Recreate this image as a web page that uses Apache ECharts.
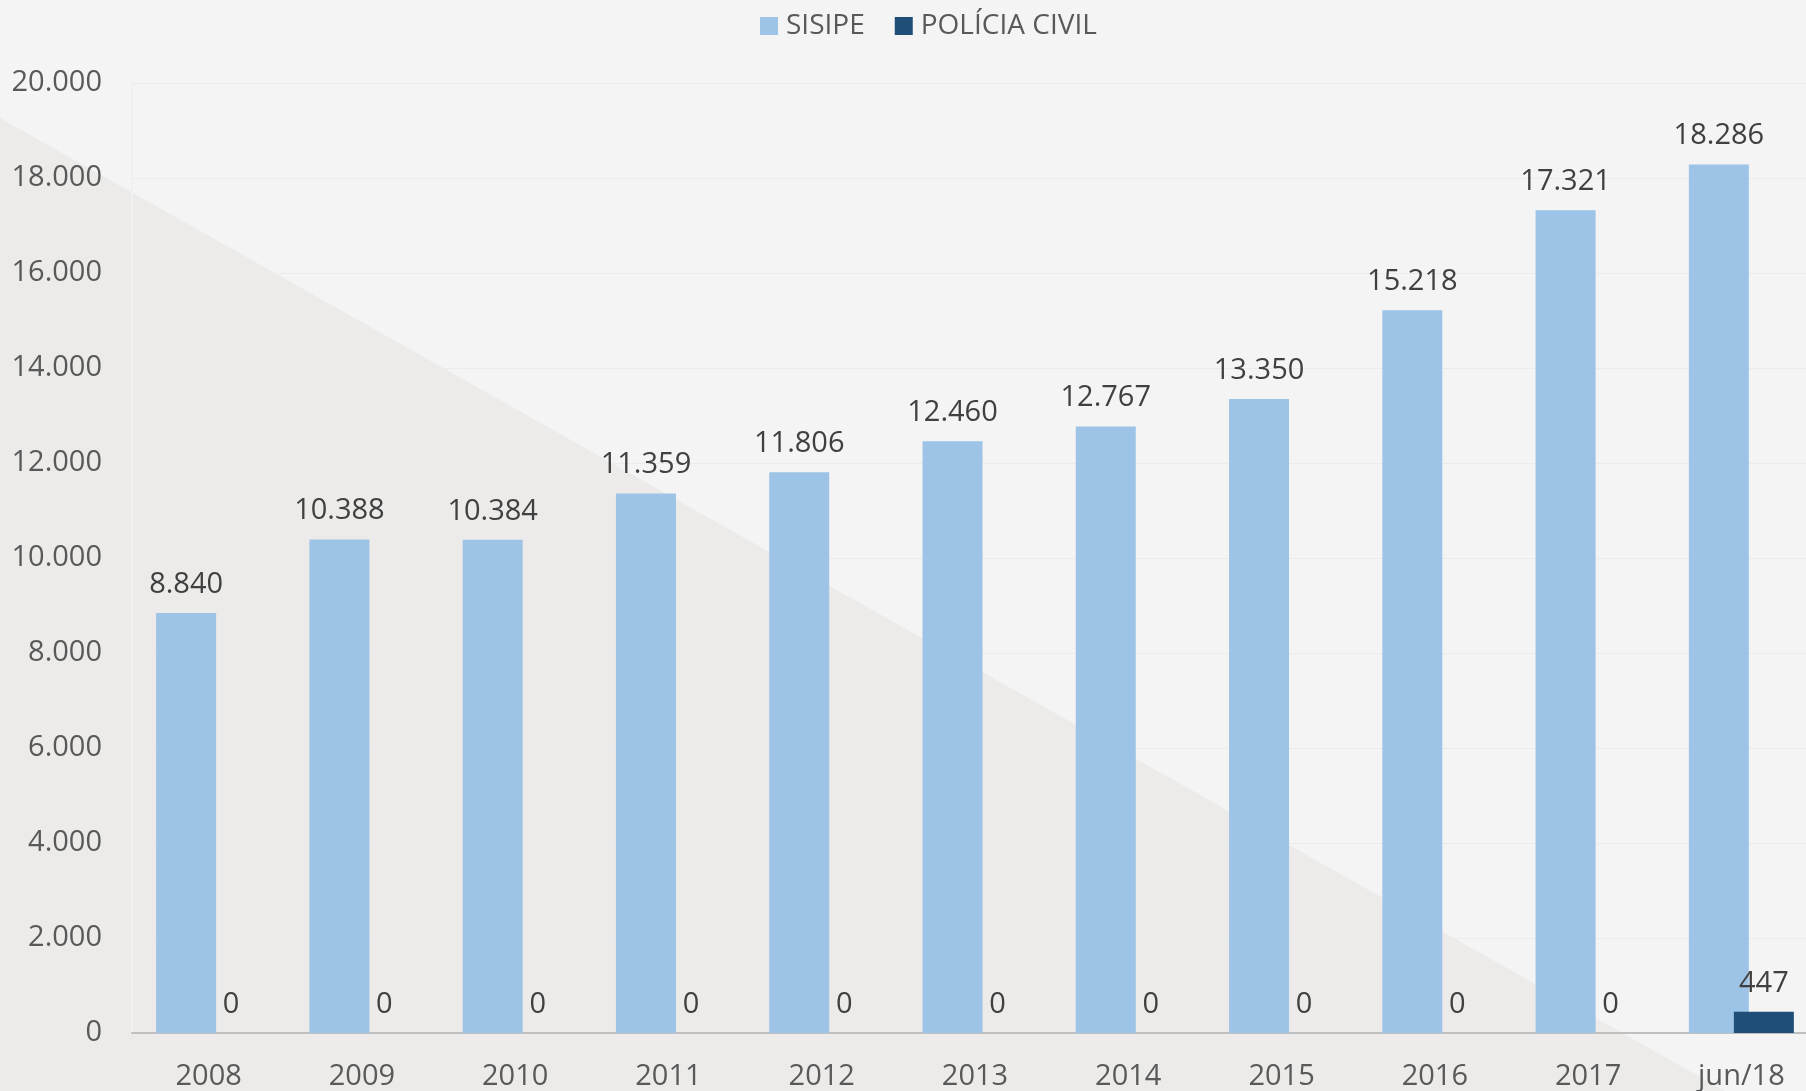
<!DOCTYPE html>
<html>
<head>
<meta charset="utf-8">
<script src="https://cdn.jsdelivr.net/npm/echarts@6/dist/echarts.min.js"></script>
<style>
  html, body { margin: 0; padding: 0; background: #f4f4f4; overflow: hidden; }
  #main { width: 1822px; height: 1091px; }
</style>
</head>
<body>
<div id="main"></div>
<script>
var categories = ['2008', '2009', '2010', '2011', '2012', '2013', '2014', '2015', '2016', '2017', 'jun/18'];
var sisipe = [8840, 10388, 10384, 11359, 11806, 12460, 12767, 13350, 15218, 17321, 18286];
var policiaCivil = [0, 0, 0, 0, 0, 0, 0, 0, 0, 0, 447];
var yTicks = [0, 2000, 4000, 6000, 8000, 10000, 12000, 14000, 16000, 18000, 20000];

// formato pt-BR: ponto como separador de milhar
function fmt(v) {
    return String(v).replace(/\B(?=(\d{3})+(?!\d))/g, '.');
}

var font = '"Open Sans", "Noto Sans", sans-serif';

var chart = echarts.init(document.getElementById('main'));

var option = {
    backgroundColor: '#f4f4f4',
    animation: false,
    textStyle: { fontFamily: font },
    graphic: [
        {
            type: 'polygon',
            z: -10,
            silent: true,
            shape: { points: [[0, 118], [1725, 1091], [0, 1091]] },
            style: { fill: '#ecebe9' }
        }
    ],
    legend: {
        left: 755,
        top: 7,
        itemWidth: 18,
        itemHeight: 18,
        itemGap: 30,
        icon: 'rect',
        textStyle: { fontSize: 28, color: '#595959', fontFamily: font, padding: [0, 0, 0, 3] },
        data: ['SISIPE', 'POLÍCIA CIVIL']
    },
    grid: {
        left: 132,
        top: 83,
        width: 1686,
        height: 950,
        containLabel: false
    },
    xAxis: {
        type: 'category',
        data: categories,
        axisTick: { show: false },
        axisLine: { lineStyle: { color: '#bfbfbf', width: 2 } },
        axisLabel: { color: '#595959', fontSize: 29, margin: 29, fontFamily: font }
    },
    yAxis: {
        type: 'value',
        min: yTicks[0],
        max: yTicks[yTicks.length - 1],
        interval: yTicks[1] - yTicks[0],
        axisLine: { show: true, lineStyle: { color: '#f0f0f0', width: 2 } },
        axisTick: { show: false },
        splitLine: { lineStyle: { color: '#ebebeb', width: 1 } },
        axisLabel: {
            color: '#595959',
            fontSize: 29,
            margin: 30,
            fontFamily: font,
            formatter: function (v) { return fmt(v); }
        }
    },
    series: [
        {
            name: 'SISIPE',
            type: 'bar',
            data: sisipe,
            barWidth: 60,
            barGap: '-25%',
            itemStyle: { color: '#9dc3e6' },
            label: {
                show: true,
                position: 'top',
                distance: 14,
                color: '#404040',
                fontSize: 29,
                fontFamily: font,
                formatter: function (p) { return fmt(p.value); }
            }
        },
        {
            name: 'POLÍCIA CIVIL',
            type: 'bar',
            data: policiaCivil,
            barWidth: 60,
            barGap: '-25%',
            itemStyle: { color: '#1f4e79' },
            label: {
                show: true,
                position: 'top',
                distance: 14,
                color: '#404040',
                fontSize: 29,
                fontFamily: font,
                formatter: function (p) { return fmt(p.value); }
            }
        }
    ]
};

chart.setOption(option);
</script>
</body>
</html>
